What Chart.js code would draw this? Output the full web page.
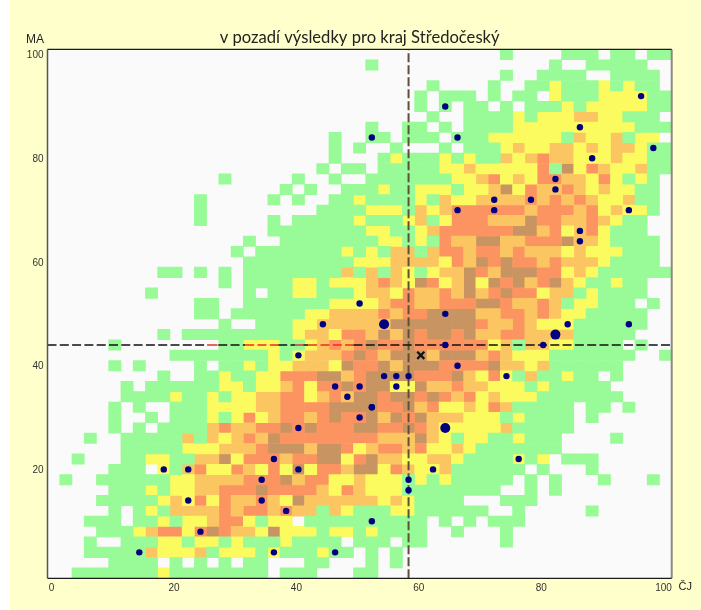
<!DOCTYPE html>
<html lang="cs">
<head>
<meta charset="utf-8">
<title>v pozadí výsledky pro kraj Středočeský</title>
<style>
html,body{margin:0;padding:0;background:#fff;}
#wrap{position:relative;width:701px;height:610px;overflow:hidden;}
#paper{position:absolute;left:10px;right:0;top:0;bottom:0;background:#ffffcc;}
canvas{position:absolute;left:0;top:0;}
</style>
</head>
<body>
<div id="wrap"><div id="paper"></div><canvas id="c" width="701" height="610"></canvas></div>
<script src="https://cdn.jsdelivr.net/npm/chart.js@4"></script>
<script>
const chartTitle = "v pozadí výsledky pro kraj Středočeský";
const xAxisName = "ČJ";
const yAxisName = "MA";
const xTicks = [0, 20, 40, 60, 80, 100];
const yTicks = [20, 40, 60, 80, 100];
const levelColors = [null, "#98fb98", "#fbfb60", "#fbc562", "#fb9461", "#c89562"];

// one string per row, from MA = 100 (top) down to MA = 0; one digit per ČJ = 0, 2, ... 100; digit = colour level
const heatRows = [
"00000000000000000"+"00000000000000000"+"00010000111011011",
"00000000000000000"+"00000000010000000"+"00000001001111100",
"00000000000000000"+"00000000000000000"+"00010011110011110",
"00000000000000000"+"00000000000000100"+"00100112111212110",
"00000000000000000"+"00000000000001011"+"10101102111222211",
"00000000000000000"+"00000000000001010"+"11010111212222211",
"00000000000000000"+"00000000000000100"+"11112122233221110",
"00000000000000000"+"00000000010011010"+"11112222222222111",
"00000000000000000"+"00000010011011101"+"11222222132231220",
"00000000000000000"+"00000010100100010"+"11123223323233211",
"00000000000000000"+"00000010001211121"+"21132343322232211",
"00000000000000000"+"00000101101111122"+"32222241524322311",
"00000000000000100"+"00010010011111112"+"23423244332421210",
"00000000000000000"+"00101001112112221"+"22352433432322110",
"00000000000010000"+"01010011211112132"+"23333434343223110",
"00000000000010000"+"00000111122213234"+"44444344434232210",
"00000000000010000"+"01011111211123124"+"44333544334321100",
"00000000000000000"+"01111111122112344"+"44445534234211100",
"00000000000000001"+"00111111112212143"+"35533444533211110",
"00000000000000010"+"11111112121331344"+"34434333232221110",
"00000000000000001"+"11111111222333324"+"35454434333211110",
"00000000011010101"+"11111113131321233"+"54355544232111111",
"00000000000000101"+"11122122234325423"+"52545345321121100",
"00000000100000001"+"01122111233243343"+"53454423312111100",
"00000000000011001"+"11111122223443344"+"45543343122111010",
"00000000000011011"+"11112233334344555"+"53344343221111100",
"00000000000000100"+"11122333333555555"+"54334322211111100",
"00000000010111111"+"11123324435354554"+"53344333311111000",
"00000100000000112"+"22112343454454444"+"44231332211110100",
"00000000001111111"+"12123334543555355"+"53432221111111001",
"00000101000010112"+"12233325445355544"+"44533231111110000",
"00000000010011211"+"22444553455554445"+"32421311211010000",
"00000010111111221"+"22342445455225334"+"33222121111100000",
"00000011112112122"+"33442343554554543"+"42322211111110000",
"00000101001112222"+"33444455554453422"+"32431111101101000",
"00000100101112124"+"23443454453545333"+"22212111101000000",
"00000101011113433"+"44545444554454322"+"22231111100000000",
"00010011111313234"+"35444444443335321"+"22112111000010000",
"00000011111222333"+"45553554234434223"+"21111111000000000",
"00100011221133524"+"44344552453322332"+"11112120111000000",
"00000111021342243"+"24252443552432231"+"11111010001000000",
"01001111112233334"+"44534422322212121"+"11110101000100010",
"00000111212233444"+"54444324322211111"+"11100101000000000",
"00001111123242433"+"43253333332321111"+"00011100000000000",
"00000101213333434"+"43433132111221111"+"11001000001000000",
"00011101121223442"+"12201111111111010"+"10111000000000000",
"00001112344245433"+"25222122121111001"+"00010000000000000",
"00010011122122121"+"11211110111011000"+"00010000000000000",
"00011111322231222"+"12111211010100000"+"00000000000000000",
"00000111101010101"+"10001100010100000"+"00000000000000000",
"00111111121111111"+"10111000110000000"+"00000000000000000"
];

const schoolX = [96,64,52,66,86,88,98,82,82,72,72,78,94,66,86,86,50,44,64,40,64,66,54,56,58,46,50,56,48,84,94,80,74,18,22,22,24,14,52,50,40,36,40,62,34,58,58,34,38,52,36,46,76,52];
const schoolY = [92,90,84,84,86,80,82,76,74,72,70,72,70,70,66,64,52,48,50,42,44,40,38,38,38,36,36,36,34,48,48,44,38,20,20,14,8,4,32,30,28,22,20,20,18,18,16,14,12,10,4,4,22,32];
const bigSchoolX = [54, 82, 64];
const bigSchoolY = [48, 46, 28];
const ownX = [60];
const ownY = [42];
const meanX = 58;
const meanY = 44;
const axisMin = -1;
const axisMax = 101;
// the horizontal mean line turns red where it crosses these stretches of ČJ
const meanLineStops = [-1, 25.3, 26.9, 31.3, 36.7, 39.5, 40.8, 41.6, 49, 101];
const meanLineColors = ["#111", "#ee2b22", "#111", "#ee2b22", "#111", "#ee2b22", "#111", "#ee2b22", "#111"];

const cellsByLevel = levelColors.map(() => []);
heatRows.forEach((row, r) => {
  const yVal = 100 - 2 * r;
  for (let c = 0; c < row.length; c++) {
    const level = +row[c];
    if (level > 0) cellsByLevel[level].push({x: 2 * c, y: [yVal - 1, yVal + 1]});
  }
});
const zip = (xs, ys) => xs.map((x, i) => ({x, y: ys[i]}));

const heatDatasets = levelColors.map((color, level) => ({
  type: "bar", data: cellsByLevel[level], backgroundColor: color, borderWidth: 0,
  barPercentage: 1, categoryPercentage: 1, grouped: false, order: 10
})).filter((d, level) => level > 0);

const framePlugin = {
  id: "frame",
  beforeDatasetsDraw(chart) {
    const a = chart.chartArea, g = chart.ctx;
    g.save(); g.fillStyle = "#fafafa";
    g.fillRect(a.left, a.top, a.width, a.height); g.restore();
  },
  afterDatasetsDraw(chart) {
    const a = chart.chartArea, g = chart.ctx;
    g.save();
    g.strokeStyle = "#8a8a80"; g.lineWidth = 2;
    g.beginPath(); g.moveTo(a.right, a.top); g.lineTo(a.right, a.bottom); g.stroke();
    g.strokeStyle = "#555"; g.lineWidth = 1.5;
    g.beginPath(); g.moveTo(a.left, a.top); g.lineTo(a.left, a.bottom); g.stroke();
    g.strokeStyle = "#1c1c1c"; g.lineWidth = 1.2;
    g.beginPath(); g.moveTo(a.left, a.top); g.lineTo(a.right, a.top);
    g.moveTo(a.left, a.bottom); g.lineTo(a.right, a.bottom); g.stroke();
    g.restore();
  },
  afterDraw(chart) {
    const a = chart.chartArea, g = chart.ctx;
    g.save();
    g.fillStyle = "#222"; g.textBaseline = "middle"; g.textAlign = "center";
    g.font = "12px 'Liberation Sans'";
    g.fillText(yAxisName, a.left - 12.5, a.top - 10);
    g.font = "11px 'Liberation Sans'";
    g.fillText(xAxisName, a.right + 13.5, a.bottom + 8.5);
    g.restore();
  }
};

new Chart(document.getElementById("c"), {
  type: "bar",
  data: {
    datasets: [
      ...heatDatasets,
      {type: "line", data: [{x: meanX, y: axisMin}, {x: meanX, y: axisMax}], borderColor: "#5e5038", borderWidth: 2, borderDash: [9, 3], pointRadius: 0, order: 3},
      {type: "line", data: meanLineStops.map(x => ({x, y: meanY})), borderColor: "#111", borderWidth: 1.4, borderDash: [9, 3.3], pointRadius: 0, order: 2,
       segment: {borderColor: ctx => meanLineColors[ctx.p0DataIndex]}},
      {type: "scatter", data: zip(schoolX, schoolY), backgroundColor: "#000080", borderWidth: 0, pointRadius: 3.2, order: 1},
      {type: "scatter", data: zip(bigSchoolX, bigSchoolY), backgroundColor: "#000080", borderWidth: 0, pointRadius: 5, order: 1},
      {type: "scatter", data: zip(ownX, ownY), pointStyle: "crossRot", borderColor: "#111", backgroundColor: "#111", borderWidth: 2.2, pointRadius: 5, order: 0}
    ]
  },
  options: {
    responsive: false,
    animation: false,
    devicePixelRatio: 1,
    layout: {padding: {right: 29.3, top: 0, left: 0, bottom: 0}},
    plugins: {
      legend: {display: false},
      tooltip: {enabled: false},
      title: {display: true, fullSize: false, text: chartTitle, color: "#222", padding: {top: 27, bottom: 2}, font: {family: "Lato", size: 16.6, weight: "normal", lineHeight: 1.23}}
    },
    scales: {
      x: {
        type: "linear", min: axisMin, max: axisMax, offset: false,
        grid: {display: false, drawTicks: false, offset: false}, border: {display: false},
        afterBuildTicks(s) { s.ticks = xTicks.map(value => ({value})); },
        afterFit(s) { s.height = 31.7; },
        ticks: {padding: 4, labelOffset: -2, maxRotation: 0, autoSkip: false, color: "#333", font: {family: "Liberation Sans", size: 10}}
      },
      y: {
        type: "linear", min: axisMin, max: axisMax,
        grid: {display: false, drawTicks: false}, border: {display: false},
        afterBuildTicks(s) { s.ticks = yTicks.map(value => ({value})); },
        afterFit(s) { s.width = 47.5; },
        ticks: {padding: 4, labelOffset: 1, autoSkip: false, color: "#333", font: {family: "Liberation Sans", size: 10}}
      }
    }
  },
  plugins: [framePlugin]
});
</script>
</body>
</html>
